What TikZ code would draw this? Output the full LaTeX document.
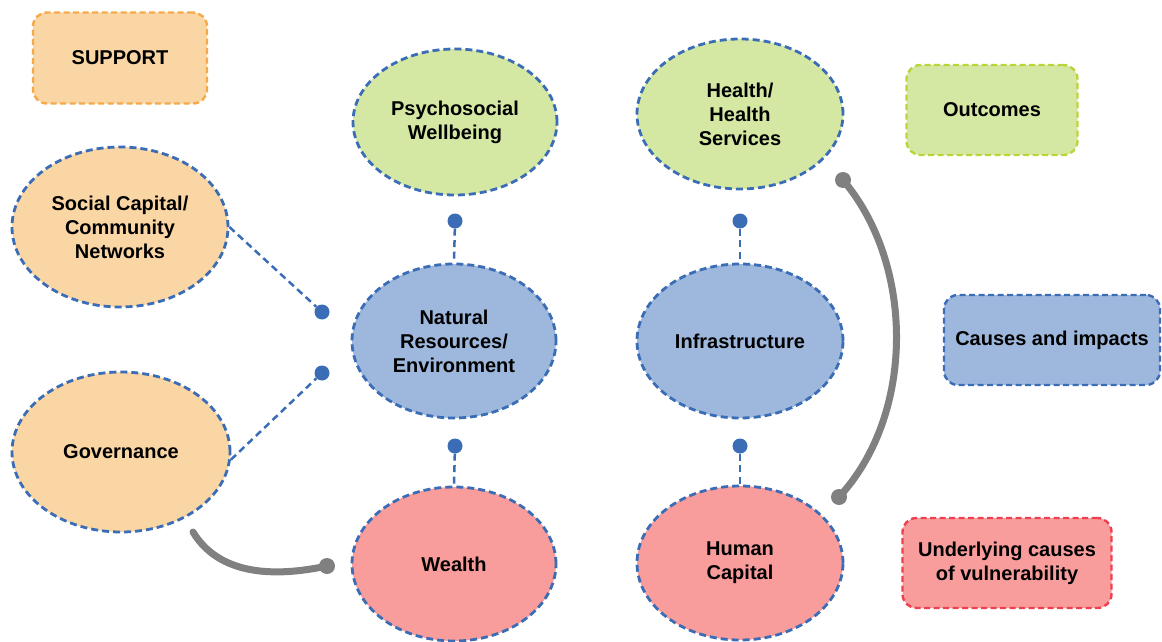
\documentclass[tikz,border=0pt]{standalone}
\usepackage{fontspec}
\setmainfont{Liberation Sans}
\usetikzlibrary{shapes.geometric}
\definecolor{peach}{HTML}{FBD6A5}
\definecolor{leaf}{HTML}{D5E8A3}
\definecolor{sky}{HTML}{9DB8DC}
\definecolor{rose}{HTML}{F99C9C}
\definecolor{edgeblue}{HTML}{3A6DB5}
\definecolor{edgeorange}{HTML}{F6A94B}
\definecolor{edgegreen}{HTML}{B8D63A}
\definecolor{edgered}{HTML}{EF4050}
\definecolor{linkgray}{HTML}{808080}
\begin{document}
\begin{tikzpicture}[x=1pt,y=-1pt,
  lbl/.style={font=\bfseries\fontsize{20}{24}\selectfont, align=center, text=black},
  oval/.style={lbl, ellipse, draw=edgeblue, line width=2.8pt, dash pattern=on 7pt off 4pt,
     minimum width=204pt, minimum height=154pt, inner sep=0pt},
  keybox/.style={lbl, rounded corners=14pt, line width=2.4pt, dash pattern=on 6pt off 3.5pt, inner sep=0pt},
  dotnode/.style={circle, fill=edgeblue, minimum size=15pt, inner sep=0pt},
  conn/.style={draw=edgeblue, line width=2.5pt, dash pattern=on 7pt off 4.5pt},
  graylink/.style={draw=linkgray, line width=7pt, line cap=round},
  grayend/.style={circle, fill=linkgray, minimum size=16pt, inner sep=0pt}
]
\useasboundingbox (0,0) rectangle (1162,642);

% legend boxes
\node[keybox, fill=peach, draw=edgeorange, minimum width=174pt, minimum height=91pt] (support) at (120,58) {SUPPORT};
\node[keybox, fill=leaf, draw=edgegreen, minimum width=171pt, minimum height=90pt] (outcomes) at (992,110) {Outcomes};
\node[keybox, fill=sky, draw=edgeblue, minimum width=216pt, minimum height=90pt] (causes) at (1052,340) {Causes and impacts};
\node[keybox, fill=rose, draw=edgered, minimum width=209pt, minimum height=90pt] (under) at (1007,563) {Underlying causes\\of vulnerability};

% ellipses
\node[oval, fill=peach, minimum width=216pt, minimum height=160pt] (social) at (120,227) {Social Capital/\\Community\\Networks};
\node[oval, fill=peach, minimum width=218pt, minimum height=160pt] (gov) at (121,452) {Governance};
\node[oval, fill=leaf, minimum height=146pt] (psycho) at (455,122) {Psychosocial\\Wellbeing};
\node[oval, fill=sky] (natural) at (454,341) {Natural\\Resources/\\Environment};
\node[oval, fill=rose] (wealth) at (454,564) {Wealth};
\node[oval, fill=leaf, minimum width=206pt, minimum height=150pt] (health) at (740,114) {Health/\\Health\\Services};
\node[oval, fill=sky, minimum width=206pt] (infra) at (740,341) {Infrastructure};
\node[oval, fill=rose, minimum width=206pt] (human) at (740,563) {Human\\Capital};

% dots
\node[dotnode] (d1) at (455,221) {};
\node[dotnode] (d2) at (455,446) {};
\node[dotnode] (d3) at (740,221) {};
\node[dotnode] (d4) at (740,446) {};
\node[dotnode] (d5) at (322,312) {};
\node[dotnode] (d6) at (322,373) {};

% dashed links
\draw[conn] (d1) -- (natural.north);
\draw[conn] (d2) -- (wealth.north);
\draw[conn] (d3) -- (infra.north);
\draw[conn] (d4) -- (human.north);
\draw[conn] (social.east) -- (d5);
\draw[conn] (gov.-4) -- (d6);

% gray links
\node[grayend] (gtop) at (843,180) {};
\node[grayend] (gbot) at (839,497) {};
\draw[graylink] (gtop.center) .. controls (915,265) and (915,415) .. (gbot.center);
\coordinate (gstart) at (193,532);
\node[grayend] (gend) at (327,566) {};
\draw[graylink] (gstart) .. controls (222,580) and (285,575) .. (gend.center);
\end{tikzpicture}
\end{document}
